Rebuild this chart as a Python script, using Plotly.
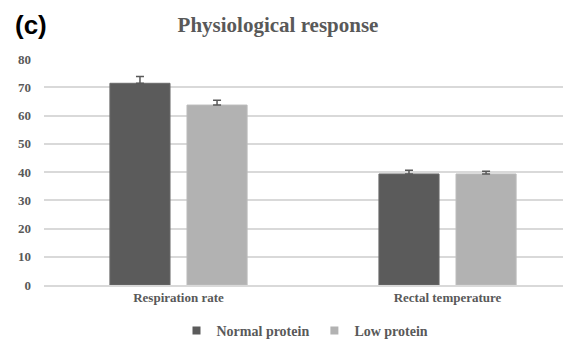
import plotly.graph_objects as go

categories = ["Respiration rate", "Rectal temperature"]
series_names = ["Normal protein", "Low protein"]
normal_protein = [71.4, 39.3]
normal_err = [2.4, 1.3]
low_protein = [63.7, 39.3]
low_err = [1.7, 1.0]

serif = "Liberation Serif"
grey = "#595959"
colors = ["#5b5b5b", "#b2b2b2"]
edge = ["#6a6a6a", "#bcbcbc"]

# page body has an 8px margin; figure coordinates are page coordinates minus 8
OFF = 8
W, H = 571, 345
L, T = 44 - OFF, 59 - OFF
B = H - (285 - OFF)
R = OFF
PW, PH = W - L - R, (285 - OFF) - T

fig = go.Figure()
for i, (vals, errs) in enumerate([(normal_protein, normal_err), (low_protein, low_err)]):
    fig.add_trace(go.Bar(
        x=[0, 1], y=vals, name=series_names[i], showlegend=False,
        marker=dict(color=colors[i], line=dict(color=edge[i], width=1)),
        error_y=dict(type="data", symmetric=False, array=errs, arrayminus=[0, 0],
                     color="#595959", thickness=1.5, width=4),
    ))
for i in range(2):
    fig.add_trace(go.Scatter(
        x=[None], y=[None], mode="markers", name="<b>%s</b>" % series_names[i],
        marker=dict(symbol="square", size=8, color=colors[i]),
    ))

fig.update_layout(
    width=W, height=H,
    margin=dict(l=L, r=R, t=T, b=B, autoexpand=False),
    paper_bgcolor="white", plot_bgcolor="white",
    barmode="group", bargap=0.427, bargroupgap=0.22,
    title=dict(text="<b>Physiological response</b>", x=(278 - OFF) / W, xanchor="center",
               y=1 - (25 - OFF) / H, yanchor="middle", yref="container",
               font=dict(family=serif, size=21, color=grey)),
    xaxis=dict(tickvals=[0, 1], ticktext=["<b>%s</b>" % c for c in categories],
               range=[-0.5, 1.459], showgrid=False, showline=True,
               linecolor="#d9d9d9", linewidth=1.5, ticks="",
               tickfont=dict(family=serif, size=13, color=grey)),
    yaxis=dict(range=[0, 80], tickvals=list(range(0, 81, 10)),
               ticktext=["<b>%d</b>" % v for v in range(0, 81, 10)],
               showgrid=True, gridcolor="#d9d9d9", gridwidth=1.5,
               zeroline=False, showline=False, ticks="", ticklabelstandoff=12,
               tickfont=dict(family=serif, size=13, color=grey)),
    legend=dict(orientation="h", x=(305 - 44) / PW, xanchor="center",
                y=(285 - 331) / PH, yanchor="middle",
                font=dict(family=serif, size=14, color=grey),
                itemwidth=30, tracegroupgap=0),
    showlegend=True,
    annotations=[dict(text="<b>(c)</b>", x=(13 - 44) / PW, y=(285 - 25) / PH, xref="paper",
                      yref="paper", xanchor="left", yanchor="middle",
                      showarrow=False, font=dict(family="Liberation Sans", size=26, color="black"))],
)

fig.write_html("out.html")
